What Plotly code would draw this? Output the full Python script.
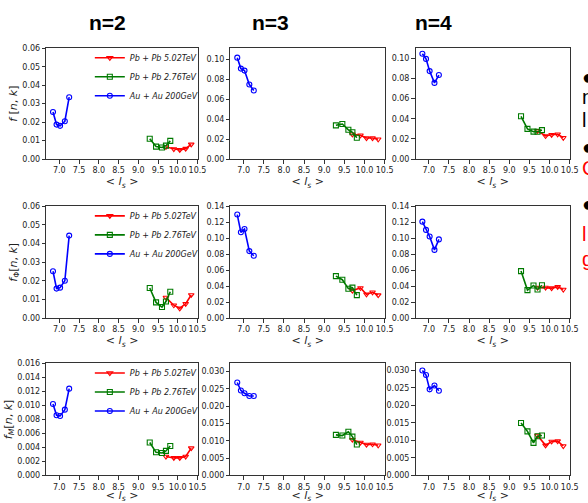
import plotly.graph_objects as go

# ---------------- data ----------------
x_au = [6.84, 6.93, 7.02, 7.14, 7.25]
x_pb276 = [9.29, 9.45, 9.60, 9.70, 9.81]
x_pb502 = [9.70, 9.90, 10.05, 10.20, 10.34]

series_names = ["Pb + Pb 5.02TeV", "Pb + Pb 2.76TeV", "Au + Au 200GeV"]
col_titles = ["n=2", "n=3", "n=4"]

# f[n,k]
f_au_n2 = [0.0255, 0.0187, 0.0180, 0.0205, 0.0335]
f_pb276_n2 = [0.0110, 0.0068, 0.0063, 0.0073, 0.0099]
f_pb502_n2 = [0.0066, 0.0055, 0.0050, 0.0057, 0.0080]
f_au_n3 = [0.102, 0.091, 0.089, 0.075, 0.069]
f_pb276_n3 = [0.0340, 0.0353, 0.0295, 0.0270, 0.0215]
f_pb502_n3 = [0.0250, 0.0240, 0.0212, 0.0212, 0.0200]
f_au_n4 = [0.1045, 0.0994, 0.0873, 0.0756, 0.0834]
f_pb276_n4 = [0.0425, 0.0300, 0.0273, 0.0272, 0.0288]
f_pb502_n4 = [0.0280, 0.0230, 0.0242, 0.0247, 0.0212]

# f_Phi[n,k]
fphi_au_n2 = [0.0252, 0.0159, 0.0164, 0.0201, 0.0443]
fphi_pb276_n2 = [0.0162, 0.0085, 0.0060, 0.0090, 0.0142]
fphi_pb502_n2 = [0.0111, 0.0070, 0.0053, 0.0078, 0.0125]
fphi_au_n3 = [0.1297, 0.1075, 0.1116, 0.0840, 0.0782]
fphi_pb276_n3 = [0.0527, 0.0482, 0.0370, 0.0383, 0.0290]
fphi_pb502_n3 = [0.0346, 0.0379, 0.0300, 0.0325, 0.0290]
fphi_au_n4 = [0.1208, 0.1105, 0.1023, 0.0855, 0.0986]
fphi_pb276_n4 = [0.0590, 0.0352, 0.0410, 0.0360, 0.0413]
fphi_pb502_n4 = [0.0385, 0.0385, 0.0377, 0.0393, 0.0360]

# f_M[n,k]
fm_au_n2 = [0.0102, 0.0086, 0.0085, 0.0094, 0.0124]
fm_pb276_n2 = [0.0047, 0.0033, 0.0032, 0.0035, 0.0042]
fm_pb502_n2 = [0.0027, 0.0025, 0.0025, 0.0027, 0.0039]
fm_au_n3 = [0.0268, 0.0245, 0.0237, 0.0229, 0.0229]
fm_pb276_n3 = [0.0117, 0.0115, 0.0126, 0.0112, 0.0089]
fm_pb502_n3 = [0.0103, 0.0095, 0.0089, 0.0090, 0.0087]
fm_au_n4 = [0.0300, 0.0287, 0.0246, 0.0257, 0.0242]
fm_pb276_n4 = [0.0150, 0.0126, 0.0093, 0.0112, 0.0114]
fm_pb502_n4 = [0.0114, 0.0086, 0.0097, 0.0098, 0.0084]

x_tick_vals = [7.0, 7.5, 8.0, 8.5, 9.0, 9.5, 10.0, 10.5]

panels = [
    [(f_pb502_n2, f_pb276_n2, f_au_n2), (f_pb502_n3, f_pb276_n3, f_au_n3), (f_pb502_n4, f_pb276_n4, f_au_n4)],
    [(fphi_pb502_n2, fphi_pb276_n2, fphi_au_n2), (fphi_pb502_n3, fphi_pb276_n3, fphi_au_n3), (fphi_pb502_n4, fphi_pb276_n4, fphi_au_n4)],
    [(fm_pb502_n2, fm_pb276_n2, fm_au_n2), (fm_pb502_n3, fm_pb276_n3, fm_au_n3), (fm_pb502_n4, fm_pb276_n4, fm_au_n4)],
]
y_ranges = [[0.06, 0.1115, 0.110], [0.06, 0.14, 0.14], [0.016, 0.0323, 0.0320]]
y_dticks = [[0.01, 0.02, 0.02], [0.01, 0.02, 0.02], [0.002, 0.005, 0.005]]
y_formats = [[".2f", ".2f", ".2f"], [".2f", ".2f", ".2f"], [".3f", ".3f", ".3f"]]
y_titles = ["<i>f</i> [<i>n</i>, <i>k</i>]",
            "<i>f</i><sub>Φ</sub>[<i>n</i>, <i>k</i>]",
            "<i>f</i><sub><i>M</i></sub>[<i>n</i>, <i>k</i>]"]

# ---------------- layout geometry (pixels) ----------------
W, H = 588, 503
col_px = [(47, 201), (234, 391), (422, 579)]
row_px = [(45, 158), (206, 320), (366, 480)]

colors = ["#ff0000", "#007a00", "#0000ff"]
symbols = ["triangle-down-open", "square-open", "circle-open"]
xs = [x_pb502, x_pb276, x_au]

fig = go.Figure()
layout = dict(width=W, height=H, margin=dict(l=0, r=0, t=0, b=0),
              paper_bgcolor="white", plot_bgcolor="white",
              font=dict(family="DejaVu Sans", size=8, color="#222"),
              showlegend=True)

legend_names = ["legend", "legend2", "legend3"]
for r in range(3):
    for c in range(3):
        i = r * 3 + c + 1
        xa = "x" if i == 1 else f"x{i}"
        ya = "y" if i == 1 else f"y{i}"
        for s in range(3):
            fig.add_trace(go.Scatter(
                x=xs[s], y=panels[r][c][s], xaxis=xa, yaxis=ya,
                mode="lines+markers", name="<i>" + series_names[s] + "</i>",
                line=dict(color=colors[s], width=1.6),
                marker=dict(symbol=symbols[s], size=5, color=colors[s],
                            line=dict(width=1.1, color=colors[s])),
                showlegend=(c == 0), legend=legend_names[r]))
        x0, x1 = col_px[c]
        y0, y1 = row_px[r]
        axbase = dict(showline=True, mirror=True, linecolor="#333", linewidth=1,
                      ticks="outside", ticklen=3.5, tickwidth=0.8, tickcolor="#333",
                      showgrid=False, zeroline=False,
                      tickfont=dict(family="DejaVu Sans", size=8, color="#222"))
        layout["xaxis" if i == 1 else f"xaxis{i}"] = dict(
            axbase, domain=[x0 / W, x1 / W], anchor=ya, range=[6.67, 10.51],
            tickvals=x_tick_vals, tickformat=".1f", tickangle=0,
            title=dict(text="< <i>l</i><sub><i>s</i></sub> >", standoff=1,
                       font=dict(family="DejaVu Sans", size=11, color="#222")))
        layout["yaxis" if i == 1 else f"yaxis{i}"] = dict(
            axbase, domain=[1 - y1 / H, 1 - y0 / H], anchor=xa,
            range=[0, y_ranges[r][c]], dtick=y_dticks[r][c], tick0=0,
            tickformat=y_formats[r][c],
            title=dict(text=y_titles[r] if c == 0 else "", standoff=2,
                       font=dict(family="DejaVu Sans", size=11, color="#222")))
    layout[legend_names[r]] = dict(
        x=(col_px[0][1] + 6) / W, xanchor="right",
        y=1 - (row_px[r][0] - 5) / H, yanchor="top",
        bgcolor="rgba(0,0,0,0)", borderwidth=0, itemwidth=30,
        font=dict(family="DejaVu Sans", size=8, color="#222"),
        tracegroupgap=0)

annotations = []
title_px = [109, 275, 440]
for c in range(3):
    annotations.append(dict(text="<b>" + col_titles[c] + "</b>", x=title_px[c] / W, y=1 - 19 / H,
                            xref="paper", yref="paper", showarrow=False,
                            xanchor="center", yanchor="middle",
                            font=dict(family="Liberation Sans", size=21, color="black")))

# cut-off slide text at the right edge
side_text = [("●", 74, "black"), ("n", 95, "black"), ("l", 118, "black"),
             ("●", 146, "black"), ("C", 167, "red"),
             ("●", 204, "black"), ("l", 234, "red"), ("g", 260, "red")]
for t, yy, col in side_text:
    annotations.append(dict(text=t, x=1.0, y=1 - yy / H, xref="paper", yref="paper",
                            showarrow=False, xanchor="left", yanchor="middle", xshift=1,
                            font=dict(family="Liberation Sans", size=20, color=col)))
layout["annotations"] = annotations
fig.update_layout(**layout)
fig.write_html("out.html")
